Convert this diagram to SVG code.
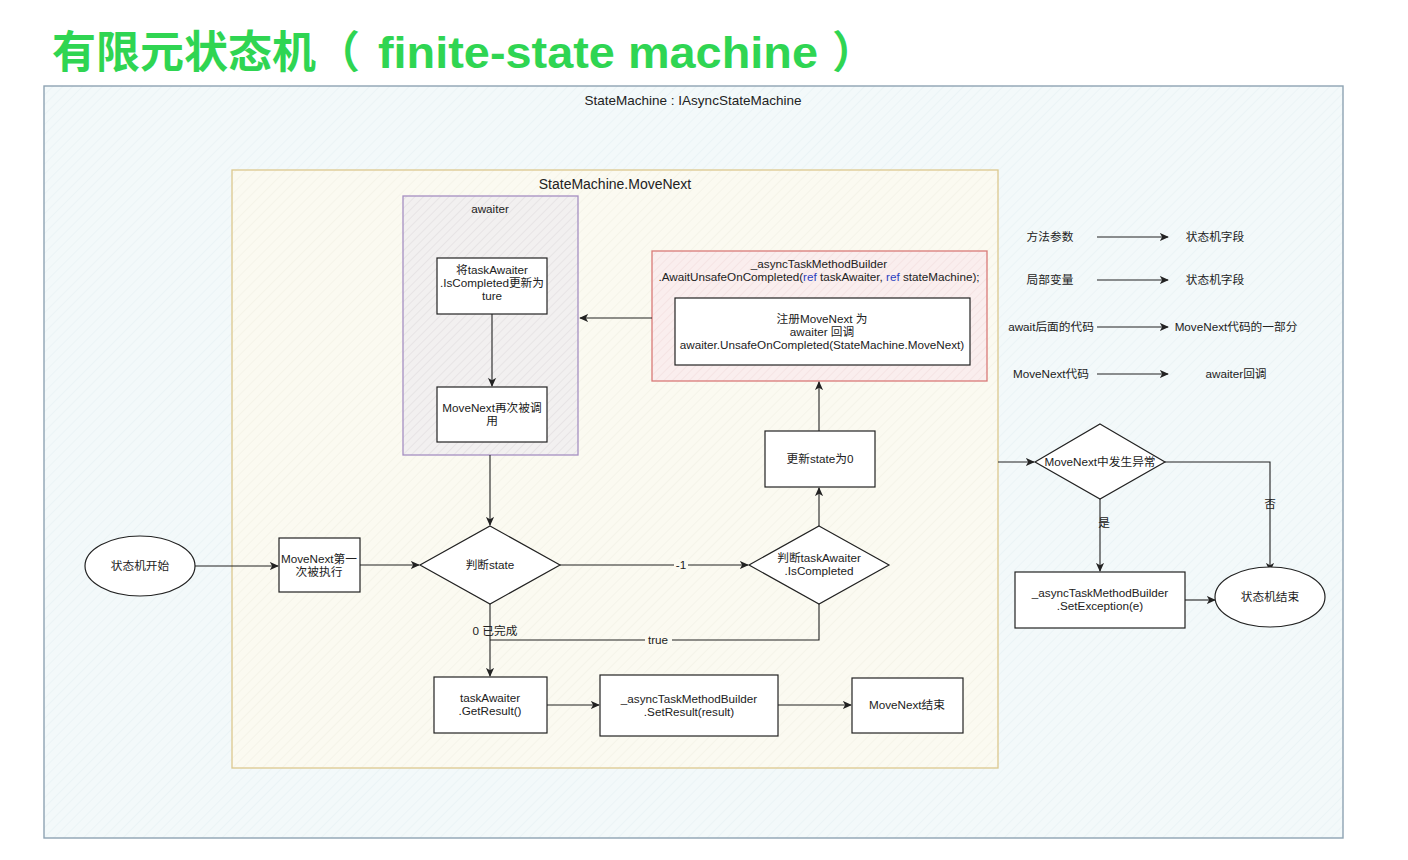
<svg xmlns="http://www.w3.org/2000/svg" width="1408" height="860" viewBox="0 0 1408 860">
<style>
.t{font-family:"Liberation Sans","Noto Sans CJK SC",sans-serif;font-size:11.7px;fill:#222;text-anchor:middle}
.box{fill:#fff;stroke:#222;stroke-width:1.2}
.ln{fill:none;stroke:#222;stroke-width:1.1}
.ttl{font-family:"Liberation Sans","Noto Sans CJK SC",sans-serif;font-weight:bold;font-size:44px;fill:#2fd552}
.blue{fill:#2a3fc0}
</style>
<defs>
<marker id="arr" viewBox="0 0 10 10" refX="9" refY="5" markerWidth="9" markerHeight="9" markerUnits="userSpaceOnUse" orient="auto">
<path d="M0,0.5 L10,5 L0,9.5 L2.5,5 Z" fill="#222"/>
</marker>
<pattern id="hb" width="7" height="7" patternUnits="userSpaceOnUse" patternTransform="rotate(45)">
<rect width="7" height="7" fill="#f3f9fa"/><line x1="0" y1="0" x2="0" y2="7" stroke="#e4eff2" stroke-width="1"/>
</pattern>
<pattern id="hy" width="7" height="7" patternUnits="userSpaceOnUse" patternTransform="rotate(45)">
<rect width="7" height="7" fill="#fbfaf1"/><line x1="0" y1="0" x2="0" y2="7" stroke="#f0eee2" stroke-width="1"/>
</pattern>
<pattern id="hp" width="6" height="6" patternUnits="userSpaceOnUse" patternTransform="rotate(45)">
<rect width="6" height="6" fill="#f2f0f0"/><line x1="0" y1="0" x2="0" y2="6" stroke="#dcd8da" stroke-width="1"/>
</pattern>
<pattern id="hr" width="6" height="6" patternUnits="userSpaceOnUse" patternTransform="rotate(45)">
<rect width="6" height="6" fill="#faeeee"/><line x1="0" y1="0" x2="0" y2="6" stroke="#f0dada" stroke-width="1"/>
</pattern>
</defs>
<rect width="1408" height="860" fill="#ffffff"/>
<text class="ttl" x="52" y="68">有限元状态机（<tspan x="378" textLength="440" lengthAdjust="spacingAndGlyphs">finite-state machine</tspan><tspan x="832">）</tspan></text>

<g id="container-statemachine">
<rect x="44" y="86" width="1299" height="752" fill="url(#hb)" stroke="#8ea3b3" stroke-width="1.4"/>
<text class="t" x="693" y="105" style="font-size:13.5px">StateMachine : IAsyncStateMachine</text>
</g>
<g id="container-movenext">
<rect x="232" y="170" width="766" height="598" fill="url(#hy)" stroke="#dcc88e" stroke-width="1.3"/>
<text class="t" x="615" y="189" style="font-size:14px">StateMachine.MoveNext</text>
</g>
<g id="container-awaiter">
<rect x="403" y="196" width="175" height="259" fill="url(#hp)" stroke="#a58fc2" stroke-width="1.3"/>
<text class="t" x="490" y="213">awaiter</text>
</g>
<g id="container-builder">
<rect x="652" y="251" width="335" height="130" fill="url(#hr)" stroke="#d97a78" stroke-width="1.3"/>
<text class="t" x="819" y="268">_asyncTaskMethodBuilder</text>
<text class="t" x="819" y="281">.AwaitUnsafeOnCompleted(<tspan class="blue">ref</tspan> taskAwaiter, <tspan class="blue">ref</tspan> stateMachine);</text>
</g>

<g id="connectors">
<line class="ln" x1="492" y1="314" x2="492" y2="386" marker-end="url(#arr)"/>
<line class="ln" x1="652" y1="318" x2="580" y2="318" marker-end="url(#arr)"/>
<line class="ln" x1="490" y1="455" x2="490" y2="525" marker-end="url(#arr)"/>
<line class="ln" x1="195" y1="566" x2="278" y2="566" marker-end="url(#arr)"/>
<line class="ln" x1="360" y1="565" x2="419" y2="565" marker-end="url(#arr)"/>
<line class="ln" x1="560" y1="565" x2="748" y2="565" marker-end="url(#arr)"/>
<line class="ln" x1="490" y1="604" x2="490" y2="676" marker-end="url(#arr)"/>
<polyline class="ln" points="819,604 819,640 490,640"/>
<line class="ln" x1="819" y1="526" x2="819" y2="488" marker-end="url(#arr)"/>
<line class="ln" x1="819" y1="431" x2="819" y2="382" marker-end="url(#arr)"/>
<line class="ln" x1="547" y1="705" x2="599" y2="705" marker-end="url(#arr)"/>
<line class="ln" x1="778" y1="705" x2="851" y2="705" marker-end="url(#arr)"/>
<line class="ln" x1="998" y1="462" x2="1034" y2="462" marker-end="url(#arr)"/>
<polyline class="ln" points="1165,462 1270,462 1270,571" marker-end="url(#arr)"/>
<line class="ln" x1="1100" y1="499" x2="1100" y2="571" marker-end="url(#arr)"/>
<line class="ln" x1="1185" y1="600" x2="1215" y2="600" marker-end="url(#arr)"/>
<line class="ln" x1="1097" y1="237" x2="1168" y2="237" marker-end="url(#arr)"/>
<line class="ln" x1="1097" y1="280" x2="1168" y2="280" marker-end="url(#arr)"/>
<line class="ln" x1="1097" y1="327" x2="1168" y2="327" marker-end="url(#arr)"/>
<line class="ln" x1="1097" y1="374" x2="1168" y2="374" marker-end="url(#arr)"/>
<rect x="674" y="559" width="14" height="12" fill="#fbfaf1"/>
<text class="t" x="681" y="569">-1</text>
<rect x="645" y="634" width="27" height="12" fill="#fbfaf1"/>
<text class="t" x="658" y="644">true</text>
<text class="t" x="495" y="635">0 已完成</text>
<text class="t" x="1270" y="508">否</text>
<text class="t" x="1104" y="527">是</text>
</g>

<g id="node-set-completed">
<rect class="box" x="437" y="258" width="110" height="56"/>
<text class="t" x="492" y="274">将taskAwaiter</text>
<text class="t" x="492" y="287">.IsCompleted更新为</text>
<text class="t" x="492" y="300">ture</text>
</g>
<g id="node-movenext-again">
<rect class="box" x="437" y="387" width="110" height="55"/>
<text class="t" x="492" y="412">MoveNext再次被调</text>
<text class="t" x="492" y="425">用</text>
</g>
<g id="node-register">
<rect class="box" x="675" y="298" width="295" height="67"/>
<text class="t" x="822" y="323">注册MoveNext 为</text>
<text class="t" x="822" y="336">awaiter 回调</text>
<text class="t" x="822" y="349">awaiter.UnsafeOnCompleted(StateMachine.MoveNext)</text>
</g>
<g id="node-update-state">
<rect class="box" x="765" y="431" width="110" height="56"/>
<text class="t" x="820" y="463">更新state为0</text>
</g>
<g id="node-start">
<ellipse class="box" cx="140" cy="566" rx="55" ry="30"/>
<text class="t" x="140" y="570">状态机开始</text>
</g>
<g id="node-first-run">
<rect class="box" x="279" y="538" width="81" height="54"/>
<text class="t" x="319" y="563">MoveNext第一</text>
<text class="t" x="319" y="576">次被执行</text>
</g>
<g id="node-check-state">
<polygon class="box" points="490,526 560,565 490,604 420,565"/>
<text class="t" x="490" y="569">判断state</text>
</g>
<g id="node-check-completed">
<polygon class="box" points="819,526 889,565 819,604 749,565"/>
<text class="t" x="819" y="562">判断taskAwaiter</text>
<text class="t" x="819" y="575">.IsCompleted</text>
</g>
<g id="node-getresult">
<rect class="box" x="434" y="677" width="113" height="56"/>
<text class="t" x="490" y="702">taskAwaiter</text>
<text class="t" x="490" y="715">.GetResult()</text>
</g>
<g id="node-setresult">
<rect class="box" x="600" y="675" width="178" height="61"/>
<text class="t" x="689" y="703">_asyncTaskMethodBuilder</text>
<text class="t" x="689" y="716">.SetResult(result)</text>
</g>
<g id="node-movenext-end">
<rect class="box" x="852" y="678" width="111" height="55"/>
<text class="t" x="907" y="709">MoveNext结束</text>
</g>
<g id="node-exception-check">
<polygon class="box" points="1100,424 1165,462 1100,499 1035,462"/>
<text class="t" x="1100" y="466">MoveNext中发生异常</text>
</g>
<g id="node-setexception">
<rect class="box" x="1015" y="572" width="170" height="56"/>
<text class="t" x="1100" y="597">_asyncTaskMethodBuilder</text>
<text class="t" x="1100" y="610">.SetException(e)</text>
</g>
<g id="node-end">
<ellipse class="box" cx="1270" cy="597" rx="55" ry="30"/>
<text class="t" x="1270" y="601">状态机结束</text>
</g>
<g id="legend">
<text class="t" x="1050" y="241">方法参数</text>
<text class="t" x="1215" y="241">状态机字段</text>
<text class="t" x="1050" y="284">局部变量</text>
<text class="t" x="1215" y="284">状态机字段</text>
<text class="t" x="1051" y="331">await后面的代码</text>
<text class="t" x="1236" y="331">MoveNext代码的一部分</text>
<text class="t" x="1051" y="378">MoveNext代码</text>
<text class="t" x="1236" y="378">awaiter回调</text>
</g>
</svg>
